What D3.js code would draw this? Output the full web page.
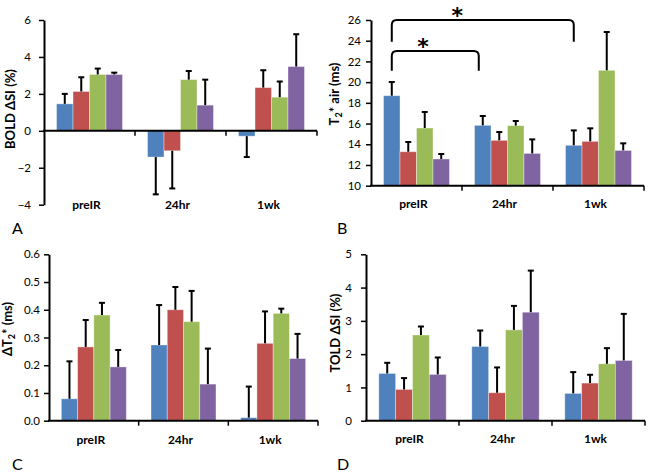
<!DOCTYPE html>
<html><head><meta charset="utf-8">
<script src="https://cdn.jsdelivr.net/npm/d3@7"></script>
<style>
html,body{margin:0;padding:0;background:#fff;}
svg text{font-family:Lato, "Open Sans", sans-serif;}
</style></head>
<body><svg id="chart" width="650" height="472"></svg>
<script>
// ---------- data ----------
const categories = ["preIR", "24hr", "1wk"];
const seriesColors = ["#4F81BD", "#C0504D", "#9BBB59", "#8064A2"];

// Panel A: BOLD ΔSI (%)
const boldMeans = [[1.46, -1.42, -0.29], [2.13, -1.08, 2.34], [3.05, 2.77, 1.82], [3.05, 1.39, 3.48]];
const boldErrs  = [[0.54, 2.02, 1.13], [0.77, 2.04, 0.94], [0.32, 0.47, 0.85], [0.10, 1.38, 1.75]];
const boldTicks = [-4, -2, 0, 2, 4, 6];

// Panel B: T2* air (ms)
const t2Means = [[18.69, 15.83, 13.90], [13.28, 14.38, 14.28], [15.57, 15.80, 21.14], [12.58, 13.12, 13.41]];
const t2Errs  = [[1.32, 0.90, 1.44], [0.94, 0.80, 1.26], [1.55, 0.45, 3.70], [0.48, 1.35, 0.68]];
const t2Ticks = [10, 12, 14, 16, 18, 20, 22, 24, 26];
const t2Brackets = [
  {fromCat: 0, toCat: 2, series: 0, top: 26.0, leg: 23.9},
  {fromCat: 0, toCat: 1, series: 0, top: 23.0, leg: 21.1}
];

// Panel C: ΔT2* (ms)
const dT2Means = [[0.079, 0.273, 0.011], [0.266, 0.400, 0.279], [0.381, 0.357, 0.387], [0.194, 0.132, 0.224]];
const dT2Errs  = [[0.135, 0.144, 0.112], [0.097, 0.082, 0.115], [0.044, 0.111, 0.017], [0.061, 0.128, 0.089]];
const dT2Ticks = [0, 0.1, 0.2, 0.3, 0.4, 0.5, 0.6];

// Panel D: TOLD ΔSI (%)
const toldMeans = [[1.42, 2.23, 0.82], [0.94, 0.84, 1.13], [2.575, 2.73, 1.71], [1.39, 3.26, 1.81]];
const toldErrs  = [[0.32, 0.48, 0.64], [0.34, 0.76, 0.25], [0.255, 0.72, 0.47], [0.51, 1.25, 1.40]];
const toldTicks = [0, 1, 2, 3, 4, 5];

// ---------- drawing ----------
const svg = d3.select("#chart");

function panel(cfg) {
  const g = svg.append("g");
  const y = d3.scaleLinear().domain(cfg.domain).range([cfg.bottom, cfg.top]);
  const x = d3.scaleBand().domain(categories).range([cfg.left, cfg.right]).paddingInner(0).paddingOuter(0);
  const xs = d3.scaleBand().domain(d3.range(seriesColors.length)).range([0, x.bandwidth()])
    .paddingInner(0).paddingOuter(0.76);

  // bars
  const rows = [];
  cfg.means.forEach((arr, s) => arr.forEach((v, c) => rows.push({s, c, v, e: cfg.errs[s][c]})));
  const base = y(Math.max(cfg.domain[0], 0));
  g.selectAll("rect.bar").data(rows).join("rect")
    .attr("x", d => x(categories[d.c]) + xs(d.s))
    .attr("width", xs.bandwidth())
    .attr("y", d => Math.min(y(d.v), base))
    .attr("height", d => Math.abs(y(d.v) - base))
    .attr("fill", d => seriesColors[d.s])
    .attr("stroke", "rgba(255,255,255,0.45)").attr("stroke-width", 0.8);

  // error bars (one-sided, away from baseline)
  const eb = g.selectAll("g.err").data(rows).join("g");
  const cx = d => x(categories[d.c]) + xs(d.s) + xs.bandwidth() / 2;
  const tip = d => y(d.v + (d.v >= 0 ? d.e : -d.e));
  eb.append("line").attr("x1", cx).attr("x2", cx).attr("y1", d => y(d.v)).attr("y2", tip)
    .attr("stroke", "#000").attr("stroke-width", 2);
  eb.append("line").attr("x1", d => cx(d) - 3).attr("x2", d => cx(d) + 3).attr("y1", tip).attr("y2", tip)
    .attr("stroke", "#000").attr("stroke-width", 2);

  // y axis
  const ya = g.append("g").attr("transform", `translate(${cfg.left},0)`)
    .call(d3.axisLeft(y).tickValues(cfg.ticks).tickSize(5).tickSizeOuter(0).tickPadding(cfg.tickPad).tickFormat(cfg.fmt));
  ya.select(".domain").attr("stroke", "#000").attr("stroke-width", 2);
  ya.selectAll(".tick line").attr("stroke", "#000").attr("stroke-width", 1.5);
  ya.selectAll(".tick text").attr("font-size", 11.5).attr("fill", "#000").style("font-family", "Lato");

  // x axis line + boundary ticks
  const xAxisY = base;
  g.append("line").attr("x1", cfg.left - 1).attr("x2", cfg.right).attr("y1", xAxisY).attr("y2", xAxisY)
    .attr("stroke", "#000").attr("stroke-width", 2);
  const bounds = categories.map(c => x(c) + x.bandwidth());
  g.selectAll("line.xt").data(bounds).join("line")
    .attr("x1", d => d).attr("x2", d => d).attr("y1", xAxisY).attr("y2", xAxisY + 5)
    .attr("stroke", "#000").attr("stroke-width", 1.5);

  // category labels
  g.selectAll("text.cat").data(categories).join("text")
    .attr("x", c => x(c) + x.bandwidth() / 2 - 3)
    .attr("y", cfg.catY)
    .attr("text-anchor", "middle").attr("dominant-baseline", "central")
    .attr("font-size", 12).attr("font-weight", "bold").attr("fill", "#000")
    .text(c => c);

  // y title
  const t = g.append("text")
    .attr("transform", `translate(${cfg.titleX},${cfg.titleY}) rotate(-90)`)
    .attr("text-anchor", "middle").attr("dominant-baseline", "central")
    .attr("font-size", 13).attr("font-weight", "bold").attr("fill", "#000");
  cfg.title(t);

  // panel letter
  g.append("text").attr("x", cfg.letterX).attr("y", cfg.letterY)
    .attr("font-size", 16).attr("fill", "#000").text(cfg.letter);

  return {g, x, xs, y};
}

const A = panel({domain: [-4, 6], top: 20, bottom: 204.7, left: 44, right: 317, ticks: boldTicks, tickPad: 8,
  fmt: d3.format("d"), means: boldMeans, errs: boldErrs, catY: 204, titleX: 10, titleY: 109,
  title: t => t.text("BOLD \u0394SI (%)"), letter: "A", letterX: 12, letterY: 234});

const B = panel({domain: [10, 26], top: 20, bottom: 185.7, left: 371, right: 644, ticks: t2Ticks, tickPad: 5,
  fmt: d3.format("d"), means: t2Means, errs: t2Errs, catY: 203, titleX: 334, titleY: 94,
  title: t => { t.append("tspan").text("T"); t.append("tspan").attr("font-size", 9).attr("dy", 4).text("2");
                t.append("tspan").attr("dy", -4).text("* air (ms)"); },
  letter: "B", letterX: 337, letterY: 234});

const C = panel({domain: [0, 0.6], top: 254.3, bottom: 420.7, left: 49, right: 318, ticks: dT2Ticks, tickPad: 4,
  fmt: d3.format(".1f"), means: dT2Means, errs: dT2Errs, catY: 439, titleX: 7, titleY: 329,
  title: t => { t.append("tspan").text("\u0394T"); t.append("tspan").attr("font-size", 9).attr("dy", 4).text("2");
                t.append("tspan").attr("dy", -4).text("* (ms)"); },
  letter: "C", letterX: 12, letterY: 470});

const D = panel({domain: [0, 5], top: 254.3, bottom: 420.7, left: 366, right: 645, ticks: toldTicks, tickPad: 9,
  fmt: d3.format("d"), means: toldMeans, errs: toldErrs, catY: 438, titleX: 335, titleY: 333,
  title: t => t.text("TOLD \u0394SI (%)"), letter: "D", letterX: 337, letterY: 470});

// significance brackets on panel B
const r = 5;
t2Brackets.forEach(b => {
  const xL = B.x(categories[b.fromCat]) + B.xs(b.series) + B.xs.bandwidth() / 2;
  const xR = B.x(categories[b.toCat]) + B.xs(b.series) + B.xs.bandwidth() / 2 - (b.toCat === 1 ? 4 : 0);
  const yT = B.y(b.top), yL = B.y(b.leg);
  const p = d3.path();
  p.moveTo(xL, yL); p.lineTo(xL, yT + r); p.quadraticCurveTo(xL, yT, xL + r, yT);
  p.lineTo(xR - r, yT); p.quadraticCurveTo(xR, yT, xR, yT + r); p.lineTo(xR, yL);
  B.g.append("path").attr("d", p.toString()).attr("fill", "none").attr("stroke", "#000").attr("stroke-width", 2);
  B.g.append("text").attr("x", xL + 0.36 * (xR - xL)).attr("y", yT + 3)
    .attr("text-anchor", "middle").attr("font-size", 22).attr("font-weight", "bold")
    .style("font-family", "'DejaVu Sans'").attr("fill", "#000").text("*");
});
</script></body></html>
